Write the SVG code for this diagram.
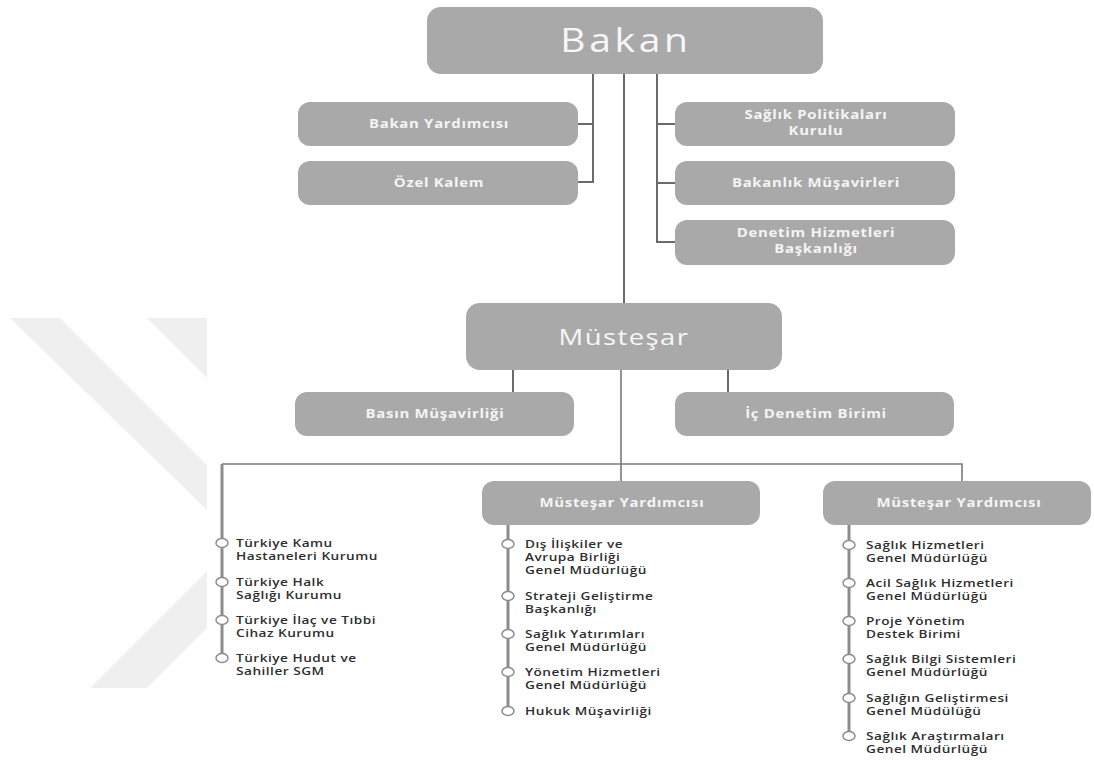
<svg xmlns="http://www.w3.org/2000/svg" width="1094" height="760" viewBox="0 0 1094 760">
<style>
.box{fill:#a9a9a9}
.big{font-family:"Open Sans","Liberation Sans",sans-serif;font-weight:400;fill:#f7f7f7;text-anchor:middle}
.bt{font-family:"Open Sans","Liberation Sans",sans-serif;font-weight:700;font-size:13px;letter-spacing:0.6px;fill:#f4f4f4;text-anchor:middle}
.li{font-family:"Open Sans","Liberation Sans",sans-serif;font-weight:600;font-size:11px;letter-spacing:0.4px;fill:#2e2e2e}
.c{fill:none;stroke:#6a6a6a;stroke-width:2}
.h{fill:none;stroke:#7a7a7a;stroke-width:1.6}
.v{fill:none;stroke:#8c8c8c;stroke-width:3}
.dot{fill:#fff;stroke:#8c8c8c;stroke-width:1.5}
.wm{fill:#efefef}
</style>
<g id="watermark">
<polygon class="wm" points="10,318 60,318 207,465 207,510"/>
<polygon class="wm" points="147,318 207,318 207,378"/>
<polygon class="wm" points="207,571 207,628 147,688 90,688"/>
</g>
<g id="connectors">
<path class="c" d="M593,74 V182 H578 M593,124 H578"/>
<path class="c" d="M657,74 V242 H676 M657,124 H676 M657,183 H676"/>
<path class="c" d="M624,74 V303"/>
<path class="c" d="M513,370 V392 M728,370 V392"/>
<path class="h" d="M621,370 V481 M222,464 H962 V481"/>
<path class="v" d="M222,464 V658"/>
<path class="v" d="M508,525 V711"/>
<path class="v" d="M849,525 V736"/>
</g>
<g id="bakan"><rect class="box" x="427" y="7" width="396" height="67" rx="14"/><text class="big" transform="translate(626,52) scale(1.22,1)" font-size="32" letter-spacing="3">Bakan</text></g>
<g id="bakan-yardimcisi"><rect class="box" x="298" y="102" width="280" height="44" rx="12"/><text class="bt" transform="translate(439,128) scale(1.15,1)">Bakan Yardımcısı</text></g>
<g id="ozel-kalem"><rect class="box" x="298" y="161" width="280" height="44" rx="12"/><text class="bt" transform="translate(439,187) scale(1.15,1)">Özel Kalem</text></g>
<g id="saglik-politikalari"><rect class="box" x="675" y="102" width="280" height="44" rx="12"/><text class="bt" transform="translate(816,119) scale(1.15,1)">Sağlık Politikaları</text><text class="bt" transform="translate(816,135) scale(1.15,1)">Kurulu</text></g>
<g id="bakanlik-musavirleri"><rect class="box" x="675" y="161" width="280" height="44" rx="12"/><text class="bt" transform="translate(816,187) scale(1.15,1)">Bakanlık Müşavirleri</text></g>
<g id="denetim-hizmetleri"><rect class="box" x="675" y="220" width="280" height="45" rx="12"/><text class="bt" transform="translate(816,237) scale(1.15,1)">Denetim Hizmetleri</text><text class="bt" transform="translate(816,253) scale(1.15,1)">Başkanlığı</text></g>
<g id="mustesar"><rect class="box" x="466" y="303" width="316" height="67" rx="14"/><text class="big" transform="translate(624,345) scale(1.22,1)" font-size="22.5" letter-spacing="1.2">Müsteşar</text></g>
<g id="basin-musavirligi"><rect class="box" x="295" y="392" width="279" height="44" rx="12"/><text class="bt" transform="translate(435,418) scale(1.15,1)">Basın Müşavirliği</text></g>
<g id="ic-denetim"><rect class="box" x="675" y="392" width="279" height="44" rx="12"/><text class="bt" transform="translate(816,418) scale(1.15,1)">İç Denetim Birimi</text></g>
<g id="mustesar-yardimcisi-1"><rect class="box" x="482" y="481" width="278" height="44" rx="12"/><text class="bt" transform="translate(622,507) scale(1.15,1)">Müsteşar Yardımcısı</text></g>
<g id="mustesar-yardimcisi-2"><rect class="box" x="823" y="481" width="268" height="44" rx="12"/><text class="bt" transform="translate(959,507) scale(1.15,1)">Müsteşar Yardımcısı</text></g>
<g id="left-list">
<ellipse class="dot" cx="222" cy="543" rx="6" ry="4.5"/><text class="li" transform="translate(236,547) scale(1.24,1)">Türkiye Kamu</text><text class="li" transform="translate(236,560) scale(1.24,1)">Hastaneleri Kurumu</text>
<ellipse class="dot" cx="222" cy="582" rx="6" ry="4.5"/><text class="li" transform="translate(236,586) scale(1.24,1)">Türkiye Halk</text><text class="li" transform="translate(236,599) scale(1.24,1)">Sağlığı Kurumu</text>
<ellipse class="dot" cx="222" cy="620" rx="6" ry="4.5"/><text class="li" transform="translate(236,624) scale(1.24,1)">Türkiye İlaç ve Tıbbi</text><text class="li" transform="translate(236,637) scale(1.24,1)">Cihaz Kurumu</text>
<ellipse class="dot" cx="222" cy="658" rx="6" ry="4.5"/><text class="li" transform="translate(236,662) scale(1.24,1)">Türkiye Hudut ve</text><text class="li" transform="translate(236,675) scale(1.24,1)">Sahiller SGM</text>
</g>
<g id="middle-list">
<ellipse class="dot" cx="508" cy="544" rx="6" ry="4.5"/><text class="li" transform="translate(525,548) scale(1.24,1)">Dış İlişkiler ve</text><text class="li" transform="translate(525,561) scale(1.24,1)">Avrupa Birliği</text><text class="li" transform="translate(525,574) scale(1.24,1)">Genel Müdürlüğü</text>
<ellipse class="dot" cx="508" cy="596" rx="6" ry="4.5"/><text class="li" transform="translate(525,600) scale(1.24,1)">Strateji Geliştirme</text><text class="li" transform="translate(525,613) scale(1.24,1)">Başkanlığı</text>
<ellipse class="dot" cx="508" cy="634" rx="6" ry="4.5"/><text class="li" transform="translate(525,638) scale(1.24,1)">Sağlık Yatırımları</text><text class="li" transform="translate(525,651) scale(1.24,1)">Genel Müdürlüğü</text>
<ellipse class="dot" cx="508" cy="672" rx="6" ry="4.5"/><text class="li" transform="translate(525,676) scale(1.24,1)">Yönetim Hizmetleri</text><text class="li" transform="translate(525,689) scale(1.24,1)">Genel Müdürlüğü</text>
<ellipse class="dot" cx="508" cy="711" rx="6" ry="4.5"/><text class="li" transform="translate(525,715) scale(1.24,1)">Hukuk Müşavirliği</text>
</g>
<g id="right-list">
<ellipse class="dot" cx="849" cy="545" rx="6" ry="4.5"/><text class="li" transform="translate(866,549) scale(1.24,1)">Sağlık Hizmetleri</text><text class="li" transform="translate(866,562) scale(1.24,1)">Genel Müdürlüğü</text>
<ellipse class="dot" cx="849" cy="583" rx="6" ry="4.5"/><text class="li" transform="translate(866,587) scale(1.24,1)">Acil Sağlık Hizmetleri</text><text class="li" transform="translate(866,600) scale(1.24,1)">Genel Müdürlüğü</text>
<ellipse class="dot" cx="849" cy="621" rx="6" ry="4.5"/><text class="li" transform="translate(866,625) scale(1.24,1)">Proje Yönetim</text><text class="li" transform="translate(866,638) scale(1.24,1)">Destek Birimi</text>
<ellipse class="dot" cx="849" cy="659" rx="6" ry="4.5"/><text class="li" transform="translate(866,663) scale(1.24,1)">Sağlık Bilgi Sistemleri</text><text class="li" transform="translate(866,676) scale(1.24,1)">Genel Müdürlüğü</text>
<ellipse class="dot" cx="849" cy="698" rx="6" ry="4.5"/><text class="li" transform="translate(866,702) scale(1.24,1)">Sağlığın Geliştirmesi</text><text class="li" transform="translate(866,715) scale(1.24,1)">Genel Müdülüğü</text>
<ellipse class="dot" cx="849" cy="736" rx="6" ry="4.5"/><text class="li" transform="translate(866,740) scale(1.24,1)">Sağlık Araştırmaları</text><text class="li" transform="translate(866,753) scale(1.24,1)">Genel Müdürlüğü</text>
</g>
</svg>
